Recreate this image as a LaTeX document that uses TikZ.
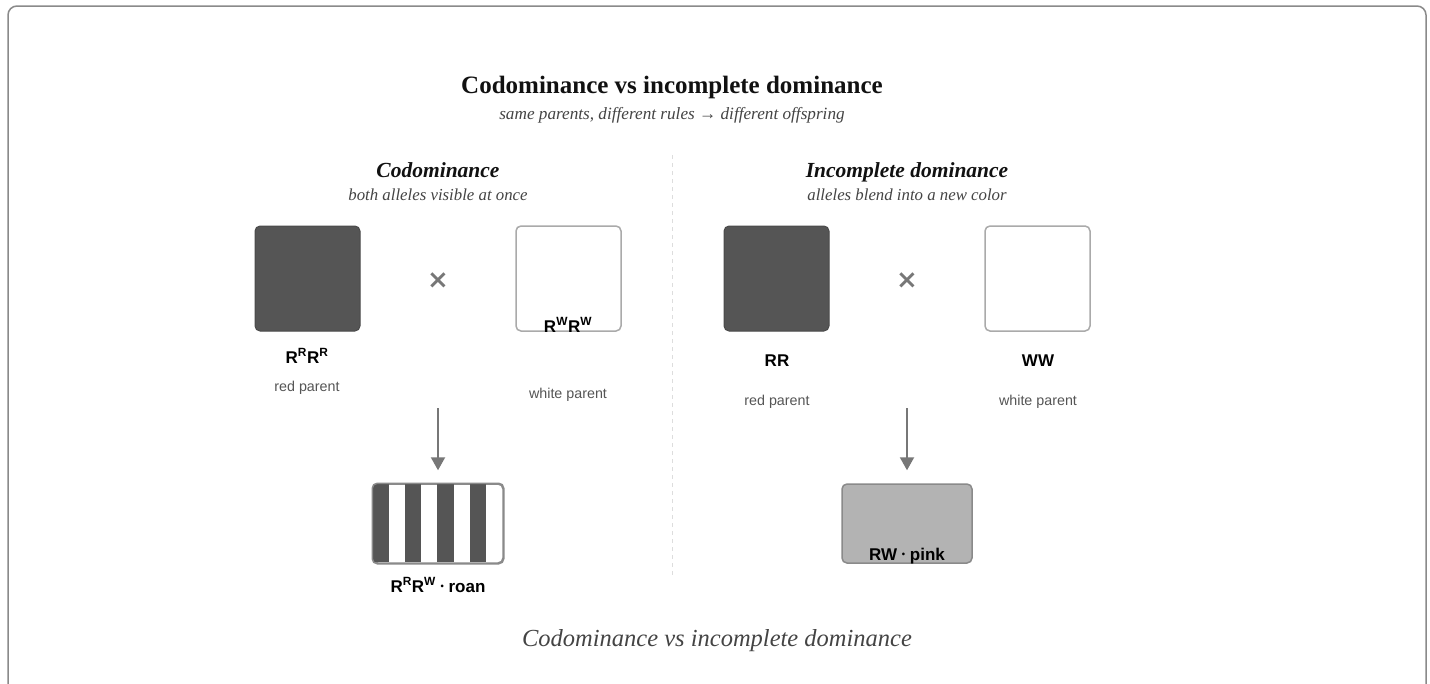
\documentclass[tikz,border=0pt]{standalone}
\usepackage{fontspec}
\setmainfont{Liberation Serif}
\setsansfont{Liberation Sans}
\newfontfamily\crossfont{DejaVu Sans}
\usetikzlibrary{arrows.meta,calc}
\definecolor{framegray}{HTML}{8A8A8A}
\definecolor{dark}{HTML}{555555}
\definecolor{darkedge}{HTML}{4A4A4A}
\definecolor{lightedge}{HTML}{AAAAAA}
\definecolor{blend}{HTML}{B3B3B3}
\definecolor{txt}{HTML}{111111}
\definecolor{subtxt}{HTML}{444444}
\definecolor{lbl}{HTML}{555555}
\definecolor{divider}{HTML}{DDDDDD}
\definecolor{arrowgray}{HTML}{777777}
\newcommand{\gdot}{ \raisebox{0.28ex}{\scalebox{0.55}{\textbullet}} }
\tikzset{
  title/.style={font=\fontsize{25}{29}\selectfont\bfseries, text=txt},
  subtitle/.style={font=\fontsize{17.2}{20}\selectfont\itshape, text=subtxt},
  heading/.style={font=\fontsize{21.5}{25}\selectfont\bfseries\itshape, text=txt, anchor=base},
  subheading/.style={font=\fontsize{16.8}{20}\selectfont\itshape, text=subtxt},
  redsq/.style={draw=darkedge, fill=dark, line width=1pt, rounded corners=5pt, minimum width=105pt, minimum height=105pt, inner sep=0pt},
  whitesq/.style={draw=lightedge, fill=white, line width=1.5pt, rounded corners=5pt, minimum width=105pt, minimum height=105pt, inner sep=0pt},
  geno/.style={font=\fontsize{17}{19}\selectfont\sffamily\bfseries, text=black, inner sep=0pt},
  role/.style={font=\fontsize{14.3}{16}\selectfont\sffamily, text=lbl, inner sep=0pt},
  cross/.style={font=\fontsize{26}{28}\selectfont\crossfont\bfseries, text=arrowgray, inner sep=0pt},
  flow/.style={draw=arrowgray, line width=2pt, -{Triangle[width=14pt,length=13pt]}},
  offbox/.style={draw=framegray, line width=1.5pt, rounded corners=5pt, minimum width=130pt, minimum height=79pt, inner sep=0pt},
  caption/.style={font=\fontsize{24.5}{28}\selectfont\itshape, text=subtxt},
}
\begin{document}
\begin{tikzpicture}[x=1pt, y=-1pt]
  \useasboundingbox (0,0) rectangle (1430,683);
  \fill[white] (0,0) rectangle (1430,683);
  \begin{scope}
    \clip (0,0) rectangle (1430,683);
    \draw[framegray, line width=1.5pt, rounded corners=9pt] (8,6) rectangle (1426,700);
  \end{scope}

  % headline
  \node[title] (title) at (672,87) {Codominance vs incomplete dominance};
  \node[subtitle] (subtitle) at (672,115) {same parents, different rules \textrightarrow\ different offspring};

  % column divider
  \draw[divider, line width=1pt, dash pattern=on 4pt off 4pt] (672,155) coordinate (divtop) -- (672,575) coordinate (divbot);

  % ---- codominance column ----
  \node[heading] (hcod) at (438,177) {Codominance};
  \node[subheading] (scod) at (438,195) {both alleles visible at once};

  \node[redsq] (cred) at (307.5,278.5) {};
  \node[cross] (cx) at (438,281) {\symbol{"00D7}};
  \node[whitesq] (cwhite) at (568.5,278.5) {};

  \node[geno] (gcred) at (307,356) {R\textsuperscript{R}R\textsuperscript{R}};
  \node[role] (rcred) at (307,388) {red parent};
  \node[geno] (gcwhite) at (568,325) {R\textsuperscript{W}R\textsuperscript{W}};
  \node[role] (rcwhite) at (568,395) {white parent};

  \coordinate (ca) at (438,408);
  \node[offbox] (roan) at (438,523.5) {};
  \begin{scope}
    \clip[rounded corners=5pt] (roan.south west) rectangle (roan.north east);
    \foreach \i in {0,2,4,6} {
      \fill[dark] ($(roan.north west)+(\i*16.25,0)$) rectangle ++(16.25,79);
    }
  \end{scope}
  \draw[framegray, line width=1.5pt, rounded corners=5pt] (roan.south west) rectangle (roan.north east);
  \draw[flow] (ca) -- ([yshift=13pt]roan.north);
  \node[geno] (groan) at (438,585) {R\textsuperscript{R}R\textsuperscript{W}\gdot roan};

  % ---- incomplete dominance column ----
  \node[heading] (hinc) at (907,177) {Incomplete dominance};
  \node[subheading] (sinc) at (907,195) {alleles blend into a new color};

  \node[redsq] (ired) at (776.5,278.5) {};
  \node[cross] (ix) at (907,281) {\symbol{"00D7}};
  \node[whitesq] (iwhite) at (1037.5,278.5) {};

  \node[geno] (gired) at (777,361) {RR};
  \node[role] (rired) at (777,402) {red parent};
  \node[geno] (giwhite) at (1038,361) {WW};
  \node[role] (riwhite) at (1038,402) {white parent};

  \coordinate (ia) at (907,408);
  \node[offbox, fill=blend] (pink) at (907,523.5) {};
  \draw[flow] (ia) -- ([yshift=13pt]pink.north);
  \node[geno] (gpink) at (907,556) {RW\gdot pink};

  % caption
  \node[caption] (cap) at (717,641) {Codominance vs incomplete dominance};
\end{tikzpicture}
\end{document}
